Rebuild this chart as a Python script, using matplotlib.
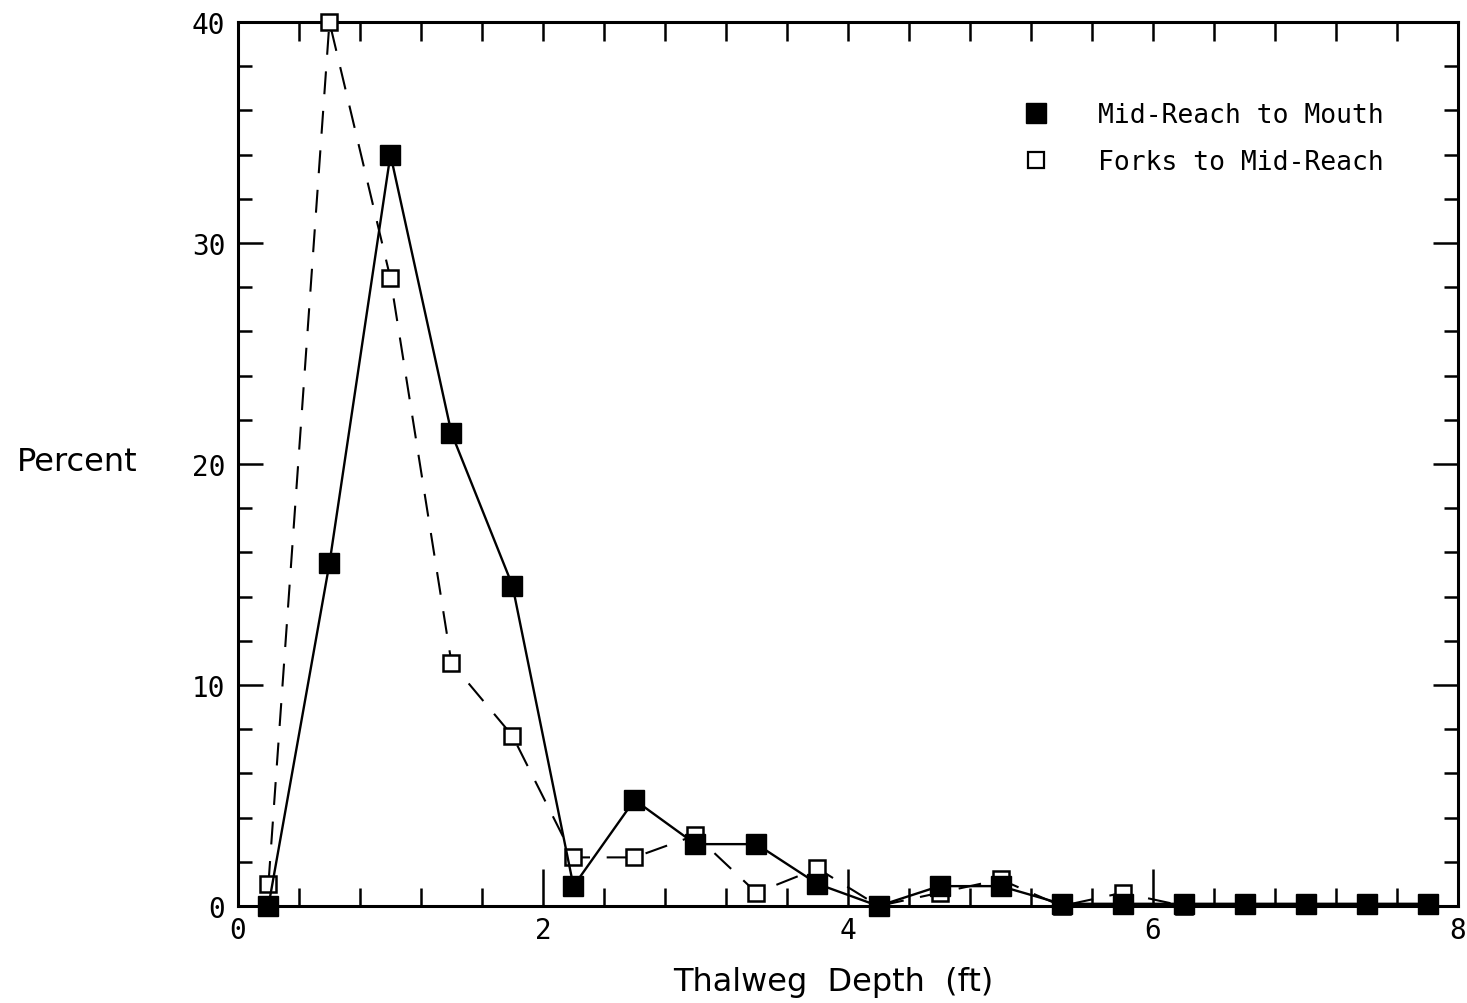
import matplotlib
matplotlib.use("Agg")
import matplotlib.pyplot as plt
from matplotlib.lines import Line2D
from matplotlib.ticker import MultipleLocator

# Thalweg depth classes (ft) and percent of observations
depth_mouth = [0.2, 0.6, 1.0, 1.4, 1.8, 2.2, 2.6, 3.0, 3.4, 3.8,
               4.2, 4.6, 5.0, 5.4, 5.8, 6.2, 6.6, 7.0, 7.4, 7.8]
pct_mouth = [0.0, 15.5, 34.0, 21.4, 14.5, 0.9, 4.8, 2.8, 2.8, 1.0,
             0.0, 0.9, 0.9, 0.1, 0.1, 0.1, 0.1, 0.1, 0.1, 0.1]

depth_forks = [0.2, 0.6, 1.0, 1.4, 1.8, 2.2, 2.6, 3.0, 3.4, 3.8,
               4.2, 4.6, 5.0, 5.4, 5.8, 6.2]
pct_forks = [1.0, 40.0, 28.4, 11.0, 7.7, 2.2, 2.2, 3.2, 0.6, 1.7,
             0.0, 0.6, 1.2, 0.0, 0.6, 0.0]

label_mouth = "Mid-Reach to Mouth"
label_forks = "Forks to Mid-Reach"
xlabel = "Thalweg  Depth  (ft)"
ylabel = "Percent"

mono = ["DejaVu Sans Mono"]
sans = ["DejaVu Sans"]

fig = plt.figure(figsize=(14.67, 10.04), dpi=100)
ax = fig.add_axes([0.1622, 0.0966, 0.8317, 0.8805])

ax.plot(depth_forks, pct_forks, color="black", lw=1.5, ls=(0, (11, 8)),
        marker="s", ms=12, mfc="white", mec="black", mew=1.8, zorder=3,
        clip_on=False)
ax.plot(depth_mouth, pct_mouth, color="black", lw=1.7, ls="-",
        marker="s", ms=15, mfc="black", mec="black", zorder=4,
        clip_on=False)

ax.set_xlim(0, 8)
ax.set_ylim(0, 40)

# bottom / left ticks: long major ticks, short minor ticks, all inward
ax.xaxis.set_major_locator(MultipleLocator(2))
ax.xaxis.set_minor_locator(MultipleLocator(0.4))
ax.yaxis.set_major_locator(MultipleLocator(10))
ax.yaxis.set_minor_locator(MultipleLocator(2))
ax.tick_params(axis="x", which="major", direction="in", length=27, width=1.8,
               pad=7, labelsize=20)
ax.tick_params(axis="x", which="minor", direction="in", length=13, width=1.8)
ax.tick_params(axis="y", which="major", direction="in", length=18, width=1.8,
               pad=9, labelsize=20)
ax.tick_params(axis="y", which="minor", direction="in", length=10, width=1.8)
for lab in ax.get_xticklabels() + ax.get_yticklabels():
    lab.set_family(mono)

# top and right frame ticks
top = ax.secondary_xaxis("top")
top.xaxis.set_major_locator(MultipleLocator(0.4))
top.tick_params(direction="in", length=14, width=1.8, labeltop=False)
top.spines["top"].set_visible(False)
right = ax.secondary_yaxis("right")
right.yaxis.set_major_locator(MultipleLocator(10))
right.yaxis.set_minor_locator(MultipleLocator(2))
right.tick_params(which="major", direction="in", length=18, width=1.8,
                  labelright=False)
right.tick_params(which="minor", direction="in", length=10, width=1.8)
right.spines["right"].set_visible(False)

for sp in ax.spines.values():
    sp.set_linewidth(2.2)

handles = [
    Line2D([], [], ls="none", marker="s", ms=14, mfc="black", mec="black"),
    Line2D([], [], ls="none", marker="s", ms=12, mfc="white", mec="black",
           mew=1.6),
]
ax.legend(handles, [label_mouth, label_forks], loc="upper left",
          bbox_to_anchor=(0.643, 0.909), frameon=False, borderpad=0,
          borderaxespad=0, handlelength=1.0, handletextpad=1.85,
          labelspacing=0.78, prop={"family": mono, "size": 19})

fig.text(0.0525, 0.539, ylabel, ha="center", va="center",
         family=sans, fontsize=23)
fig.text(0.568, 0.021, xlabel, ha="center", va="center",
         family=sans, fontsize=23)

fig.savefig("out.png", dpi=100)
